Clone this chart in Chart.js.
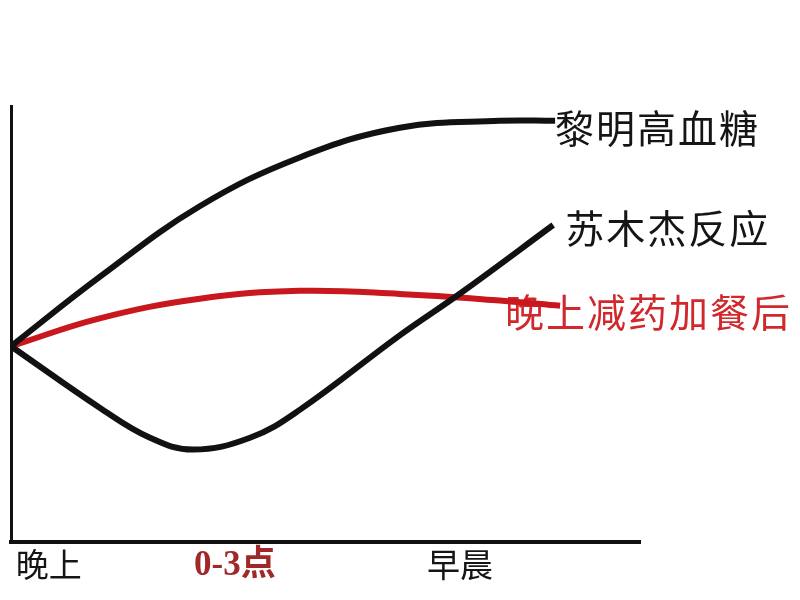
<!DOCTYPE html>
<html>
<head>
<meta charset="utf-8">
<script src="https://cdn.jsdelivr.net/npm/chart.js@4.4.1/dist/chart.umd.min.js"></script>
<style>
  html, body { margin: 0; padding: 0; background: #ffffff; }
  #wrap { width: 800px; height: 600px; }
</style>
</head>
<body>
<div id="wrap"><canvas id="c" width="800" height="600"></canvas></div>
<script>
// ---- data (x: time position 0-100, y: blood glucose level 0-100) ----
const seriesNames = ['黎明高血糖', '苏木杰反应', '晚上减药加餐后'];
const dawnX   = [0, 14.1, 30.0, 45.9, 61.8, 77.7, 86.5];
const dawnY   = [44.9, 60.8, 77.0, 88.2, 95.0, 96.6, 96.6];
const somoX   = [0, 14.1, 22.1, 28.9, 38.0, 45.9, 61.8, 71.4, 86.2];
const somoY   = [44.9, 30.8, 23.9, 21.2, 23.9, 30.3, 47.4, 57.0, 72.7];
const adjX    = [0, 14.1, 30.0, 45.9, 61.8, 77.7, 87.3];
const adjY    = [44.9, 51.3, 55.8, 57.6, 56.9, 55.4, 54.2];
const tickValues = [6.0, 35.6, 71.4];
const tickLabels = ['晚上', '0-3点', '早晨'];

const toPts = (xs, ys) => xs.map((x, i) => ({ x: x, y: ys[i] }));

const BLACK = '#111111';
const RED = '#c8181e';

// end-of-line text labels, offsets in pixels
const labelStyle = [
  { dx: 0,   dy: 7,  color: '#151515' },
  { dx: 12,  dy: 3,  color: '#151515' },
  { dx: -55, dy: 6,  color: '#d0282c' }
];

const endLabels = {
  id: 'endLabels',
  beforeDatasetsDraw(chart) {
    const ctx = chart.ctx;
    ctx.save();
    ctx.font = '39px "Noto Sans CJK SC"';
    ctx.textBaseline = 'middle';
    ctx.textAlign = 'left';
    try { ctx.letterSpacing = '2px'; } catch (e) {}
    chart.data.datasets.forEach((ds, i) => {
      const meta = chart.getDatasetMeta(i);
      const last = meta.data[meta.data.length - 1];
      const st = labelStyle[i];
      ctx.fillStyle = st.color;
      ctx.fillText(ds.label, last.x + st.dx, last.y + st.dy);
    });
    ctx.restore();
  }
};

new Chart(document.getElementById('c'), {
  type: 'line',
  data: {
    datasets: [
      { label: seriesNames[0], data: toPts(dawnX, dawnY), borderColor: BLACK, borderWidth: 6 },
      { label: seriesNames[1], data: toPts(somoX, somoY), borderColor: BLACK, borderWidth: 6 },
      { label: seriesNames[2], data: toPts(adjX, adjY), borderColor: RED, borderWidth: 6 }
    ]
  },
  options: {
    responsive: false,
    animation: false,
    devicePixelRatio: 1,
    layout: { padding: { left: 11, right: 160, top: 106, bottom: 10 } },
    elements: {
      point: { radius: 0, hoverRadius: 0 },
      line: { tension: 0.4, fill: false, borderCapStyle: 'butt' }
    },
    plugins: { legend: { display: false }, tooltip: { enabled: false } },
    scales: {
      x: {
        type: 'linear', min: 0, max: 100,
        grid: { display: false, drawTicks: false, tickLength: 0 },
        border: { display: true, color: '#111', width: 4 },
        afterBuildTicks: (axis) => { axis.ticks = tickValues.map(v => ({ value: v })); },
        ticks: {
          autoSkip: false, maxRotation: 0, padding: 3,
          callback: (v, i) => tickLabels[i],
          color: (c) => c.index === 1 ? '#a02828' : '#151515',
          font: (c) => c.index === 1
            ? { family: '"Liberation Serif", "Noto Sans CJK SC"', size: 35, weight: 'bold' }
            : { family: '"Noto Sans CJK SC"', size: 33 }
        }
      },
      y: {
        type: 'linear', min: 0, max: 100,
        grid: { display: false, drawTicks: false, tickLength: 0 },
        border: { display: true, color: '#111', width: 3 },
        ticks: { display: false }
      }
    }
  },
  plugins: [endLabels]
});
</script>
</body>
</html>
